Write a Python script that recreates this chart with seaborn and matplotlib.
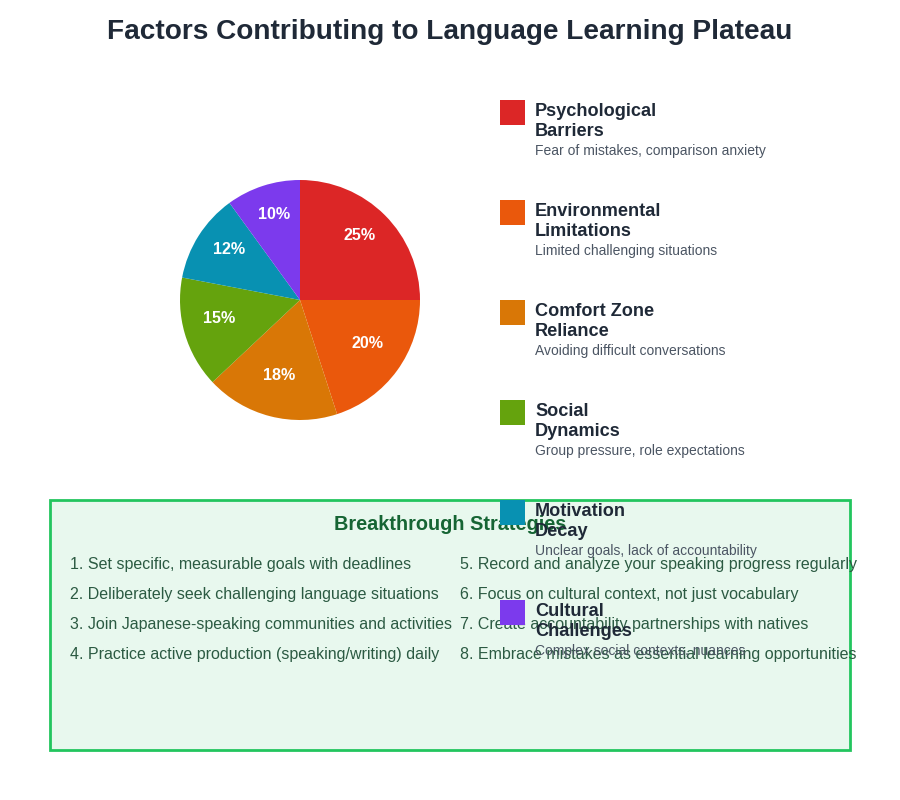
import matplotlib.pyplot as plt
import seaborn as sns
from matplotlib.patches import Rectangle

# Data
factors = ["Psychological\nBarriers", "Environmental\nLimitations", "Comfort Zone\nReliance",
           "Social\nDynamics", "Motivation\nDecay", "Cultural\nChallenges"]
descriptions = ["Fear of mistakes, comparison anxiety", "Limited challenging situations",
                "Avoiding difficult conversations", "Group pressure, role expectations",
                "Unclear goals, lack of accountability", "Complex social contexts, nuances"]
shares = [25, 20, 18, 15, 12, 10]
colors = ["#DC2626", "#EA580C", "#D97706", "#65A30D", "#0891B2", "#7C3AED"]
strategies = [
    "1. Set specific, measurable goals with deadlines",
    "2. Deliberately seek challenging language situations",
    "3. Join Japanese-speaking communities and activities",
    "4. Practice active production (speaking/writing) daily",
    "5. Record and analyze your speaking progress regularly",
    "6. Focus on cultural context, not just vocabulary",
    "7. Create accountability partnerships with natives",
    "8. Embrace mistakes as essential learning opportunities",
]

sns.set_theme(style="white")
plt.rcParams['font.family'] = ['Liberation Sans', 'DejaVu Sans']
palette = sns.color_palette(colors)

W, H = 900, 800
fig = plt.figure(figsize=(9, 8), dpi=100)

# full-figure canvas in pixel coordinates
bg = fig.add_axes([0, 0, 1, 1])
bg.set_xlim(0, W)
bg.set_ylim(H, 0)
bg.axis("off")

fig.text(0.5, 1 - 32 / H, "Factors Contributing to Language Learning Plateau",
         ha="center", va="center", fontsize=20.2, fontweight="bold", color="#1F2937")

# Pie
pie_ax = fig.add_axes([180 / W, 1 - 420 / H, 240 / W, 240 / H])
wedges, texts, autotexts = pie_ax.pie(
    shares, colors=palette, startangle=90, counterclock=False,
    autopct=lambda p: f"{p:.0f}%", pctdistance=0.70, radius=1,
    wedgeprops=dict(linewidth=0))
for t in autotexts:
    t.set_color("white")
    t.set_fontweight("bold")
    t.set_fontsize(11.6)
    x, y = t.get_position()
    t.set_position((x, y + 0.045))  # labels sit a little high in the original
pie_ax.set_aspect("equal")
pie_ax.set_xlim(-1, 1)
pie_ax.set_ylim(-1, 1)

# Strategies box
bg.add_patch(Rectangle((50, 500), 800, 250, facecolor="#E8F8EE", edgecolor="#22C55E",
                       linewidth=2, zorder=1))
bg.text(450, 524, "Breakthrough Strategies", ha="center", va="center", fontsize=14.3,
        fontweight="bold", color="#166534", zorder=2)
for i, s in enumerate(strategies):
    x = 70 if i < 4 else 460
    y = 565 + 30 * (i % 4)
    bg.text(x, y, s, ha="left", va="center", fontsize=11.5, color="#2B5A42", zorder=2)

# Legend (drawn over the box)
for i, (name, desc) in enumerate(zip(factors, descriptions)):
    top = 100 + 100 * i
    bg.add_patch(Rectangle((500, top), 25, 25, facecolor=palette[i], edgecolor="none", zorder=3))
    for j, line in enumerate(name.split("\n")):
        bg.text(535, top + 11 + 20 * j, line, ha="left", va="center", fontsize=13.1,
                fontweight="bold", color="#1F2937", zorder=4)
    bg.text(535, top + 51, desc, ha="left", va="center", fontsize=10, color="#4B5563", zorder=4)

fig.savefig("out.png", dpi=100, facecolor="white")
